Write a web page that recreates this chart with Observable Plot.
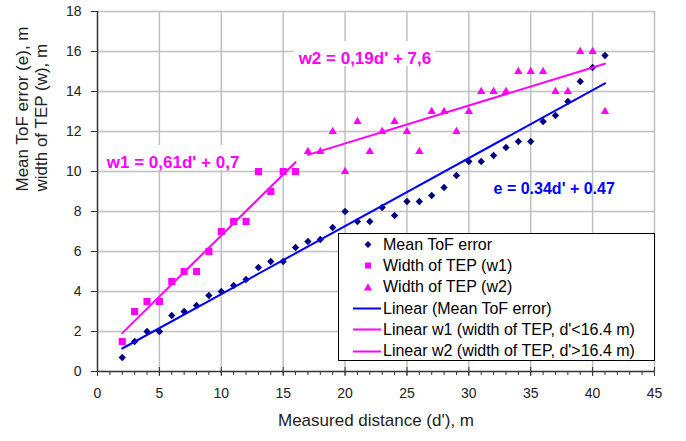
<!DOCTYPE html>
<html>
<head>
<meta charset="utf-8">
<script src="https://cdn.jsdelivr.net/npm/d3@7"></script>
<script src="https://cdn.jsdelivr.net/npm/@observablehq/plot@0.6"></script>
<style>
  body { margin: 0; background: #fff; }
  #chart { position: relative; width: 686px; height: 441px; font-family: "Liberation Sans", Arial, sans-serif; }
  #legend { position: absolute; left: 338px; top: 233px; width: 317px; height: 128px; box-sizing: border-box;
            border: 1px solid #000; background: #fff; font-size: 16px; color: #000; }
  #legend .row { display: flex; align-items: center; height: 21.3px; white-space: nowrap; }
  #legend svg { flex: none; width: 44px; height: 21px; }
</style>
</head>
<body>
<div id="chart"><div id="legend"></div></div>
<script>
// Mean ToF error (e) against measured distance d'
const meanDist = [2,3,4,5,6,7,8,9,10,11,12,13,14,15,16,17,18,19,20,21,22,23,24,25,26,27,28,29,30,31,32,33,34,35,36,37,38,39,40,41];
const meanError = [0.7,1.5,2.0,2.0,2.8,3.0,3.3,3.8,4.0,4.3,4.6,5.2,5.5,5.5,6.2,6.5,6.6,7.2,8.0,7.5,7.5,8.2,7.8,8.5,8.5,8.8,9.2,9.8,10.5,10.5,10.8,11.2,11.5,11.5,12.5,12.8,13.5,14.5,15.2,15.8];

// Width of TEP, short range (w1)
const w1Dist = [2,3,4,5,6,7,8,9,10,11,12,13,14,15,16];
const w1Width = [1.5,3.0,3.5,3.5,4.5,5.0,5.0,6.0,7.0,7.5,7.5,10.0,9.0,10.0,10.0];

// Width of TEP, long range (w2)
const w2Dist = [17,18,19,20,21,22,23,24,25,26,27,28,29,30,31,32,33,34,35,36,37,38,39,40,41];
const w2Width = [11,11,12,10,12.5,11,12,12.5,12,11,13,13,12,13,14,14,14,15,15,15,14,14,16,16,13];

// Linear fits: e, w1, w2
const fitName = ["e", "w1", "w2"];
const fitSlope = [0.34, 0.61, 0.19];
const fitIntercept = [0.47, 0.7, 7.6];
const fitFrom = [2, 2, 17];
const fitTo = [41, 16, 41];
const fitColor = ["#0000ff", "#ff00ff", "#ff00ff"];

// Equation annotations
const eqText = ["w1 = 0,61d' + 0,7", "w2 = 0,19d' + 7,6", "e = 0.34d' + 0.47"];
const eqX = [0.75, 16.25, 32.0];
const eqY = [10.45, 15.65, 9.12];
const eqColor = ["#ff00ff", "#ff00ff", "#0000ff"];
const eqSize = [17, 17, 16];

// Axes
const xTicks = [0,5,10,15,20,25,30,35,40,45];
const yTicks = [0,2,4,6,8,10,12,14,16,18];
const xTitle = "Measured distance (d'), m";
const yTitle = ["Mean ToF error (e), m", "width of TEP (w), m"];

const legendItems = ["Mean ToF error", "Width of TEP (w1)", "Width of TEP (w2)",
  "Linear (Mean ToF error)", "Linear w1 (width of TEP, d'<16.4 m)", "Linear w2 (width of TEP, d'>16.4 m)"];

const meanRows = meanDist.map((d, i) => ({d, v: meanError[i]}));
const w1Rows = w1Dist.map((d, i) => ({d, v: w1Width[i]}));
const w2Rows = w2Dist.map((d, i) => ({d, v: w2Width[i]}));
const fitRows = fitName.flatMap((name, i) =>
  [fitFrom[i], fitTo[i]].map(d => ({name, d, v: fitSlope[i] * d + fitIntercept[i], color: fitColor[i]})));
const eqRows = eqText.map((t, i) => ({t, x: eqX[i], y: eqY[i], color: eqColor[i], size: eqSize[i]}));

const minorX = d3.range(0, 46);
const grid = {stroke: "#c0c0c0", strokeOpacity: 1, strokeWidth: 1.5};
const axisInk = "#333";

const plot = Plot.plot({
  width: 686,
  height: 441,
  marginLeft: 97,
  marginRight: 32,
  marginTop: 11,
  marginBottom: 70,
  style: {fontFamily: "'Liberation Sans', Arial, sans-serif", fontSize: "14px", color: "#222", background: "transparent"},
  x: {domain: [0, 45]},
  y: {domain: [0, 18]},
  marks: [
    Plot.gridX(xTicks.slice(1), grid),
    Plot.gridY(yTicks.slice(1), grid),
    ...eqRows.map(r => Plot.text([r], {
      x: "x", y: "y", text: "t", fill: "color", fontSize: r.size, fontWeight: "bold",
      textAnchor: "start", lineAnchor: "middle"
    })),
    Plot.axisY(yTicks, {tickSize: 6, tickPadding: 10, label: null, stroke: axisInk, fontSize: 14}),
    Plot.axisX(minorX, {tickSize: 4, tickFormat: () => "", label: null, stroke: axisInk}),
    Plot.axisX(xTicks, {tickSize: -4, tickFormat: () => "", label: null, stroke: axisInk}),
    Plot.axisX(xTicks, {tickSize: 5, tickPadding: 12, label: null, stroke: axisInk, fontSize: 14}),
    Plot.ruleX([0], {stroke: axisInk, strokeWidth: 1.5}),
    Plot.ruleY([0], {stroke: axisInk, strokeWidth: 1.5}),
    Plot.dot(meanRows, {x: "d", y: "v", symbol: "diamond2", r: 3.3, fill: "#000080", stroke: null}),
    Plot.dot(w1Rows, {x: "d", y: "v", symbol: "square", r: 4, fill: "#ff00ff", stroke: null}),
    Plot.dot(w2Rows, {x: "d", y: "v", symbol: "triangle", r: 3.1, fill: "#ff00ff", stroke: null}),
    ...fitName.map((name, i) => Plot.line(fitRows.filter(r => r.name === name),
      {x: "d", y: "v", stroke: fitColor[i], strokeWidth: 2})),
    Plot.text([yTitle[0]], {frameAnchor: "left", rotate: -90, dx: -75, fontSize: 17, fill: "#222"}),
    Plot.text([yTitle[1]], {frameAnchor: "left", rotate: -90, dx: -56, fontSize: 17, fill: "#222"}),
    Plot.text([xTitle], {frameAnchor: "bottom", dy: 54, fontSize: 17, fill: "#222"})
  ]
});

const chart = document.getElementById("chart");
chart.insertBefore(plot, chart.firstChild);
plot.style.position = "absolute";
plot.style.left = "0";
plot.style.top = "0";

// White boxes behind the w1 / w2 equations so the grid does not run through them
plot.querySelectorAll("text").forEach(t => {
  if (!/^w[12] =/.test(t.textContent)) return;
  const b = t.getBBox();
  const rect = document.createElementNS("http://www.w3.org/2000/svg", "rect");
  rect.setAttribute("x", b.x - 4);
  rect.setAttribute("y", b.y - 8);
  rect.setAttribute("width", b.width + 8);
  rect.setAttribute("height", b.height + 6);
  rect.setAttribute("fill", "#fff");
  if (t.getAttribute("transform")) rect.setAttribute("transform", t.getAttribute("transform"));
  t.parentNode.insertBefore(rect, t);
});

// Legend
const ns = "http://www.w3.org/2000/svg";
const legend = document.getElementById("legend");
const glyphs = [
  s => d3.select(s).append("path").attr("d", d3.symbol(d3.symbolDiamond2, 30)()).attr("transform", "translate(29,10.5)").attr("fill", "#000080"),
  s => d3.select(s).append("path").attr("d", d3.symbol(d3.symbolSquare, 36)()).attr("transform", "translate(29,10.5)").attr("fill", "#ff00ff"),
  s => d3.select(s).append("path").attr("d", d3.symbol(d3.symbolTriangle, 30)()).attr("transform", "translate(29,11)").attr("fill", "#ff00ff"),
  s => d3.select(s).append("line").attr("x1", 14).attr("x2", 42).attr("y1", 10.5).attr("y2", 10.5).attr("stroke", fitColor[0]).attr("stroke-width", 2),
  s => d3.select(s).append("line").attr("x1", 14).attr("x2", 42).attr("y1", 10.5).attr("y2", 10.5).attr("stroke", fitColor[1]).attr("stroke-width", 2),
  s => d3.select(s).append("line").attr("x1", 14).attr("x2", 42).attr("y1", 10.5).attr("y2", 10.5).attr("stroke", fitColor[2]).attr("stroke-width", 2)
];
legendItems.forEach((label, i) => {
  const row = document.createElement("div");
  row.className = "row";
  const s = document.createElementNS(ns, "svg");
  s.setAttribute("viewBox", "0 0 44 21");
  glyphs[i](s);
  row.appendChild(s);
  const span = document.createElement("span");
  span.textContent = label;
  row.appendChild(span);
  legend.appendChild(row);
});
</script>
</body>
</html>
